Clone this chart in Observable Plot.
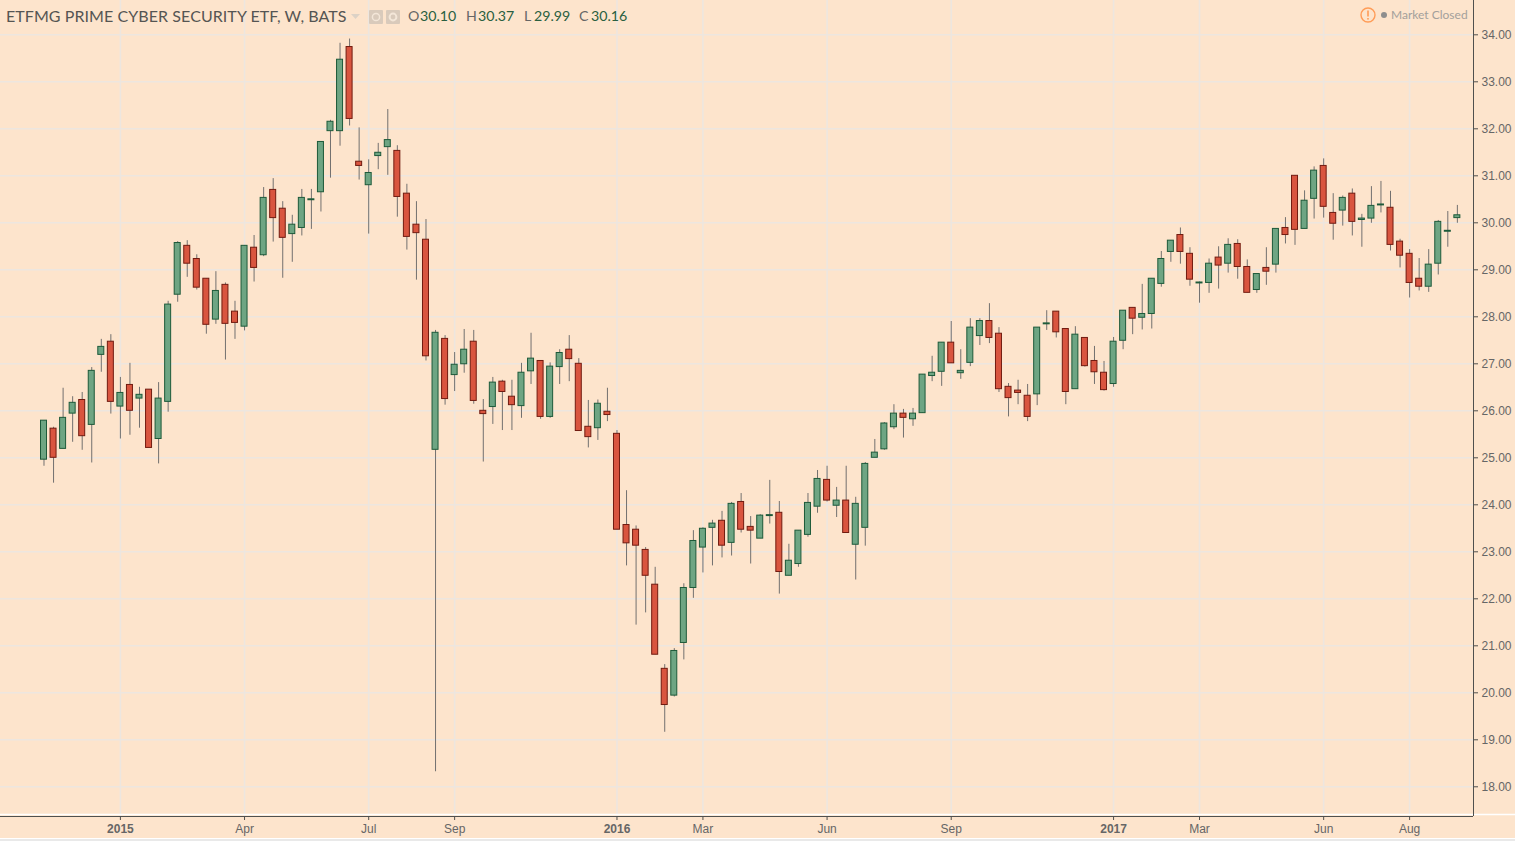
<!DOCTYPE html>
<html>
<head>
<meta charset="utf-8">
<script src="https://cdn.jsdelivr.net/npm/d3@7"></script>
<script src="https://cdn.jsdelivr.net/npm/@observablehq/plot@0.6"></script>
<style>
html,body{margin:0;padding:0;background:#e9e9e9;overflow:hidden;width:1515px;height:841px}
#wrap{position:relative;width:1515px;height:838px;background:#fde4cc;border-bottom:1px solid #fff}
#wrap svg{display:block;background:transparent}
.lbl{position:absolute;white-space:nowrap;font-family:Lato,sans-serif;line-height:16px}
.ohlc{font-size:14.2px;top:8px;color:#2a5f40}
.ohlc.k{color:#666}
</style>
</head>
<body>
<div id="wrap"></div>
<script>
const opens=[24.96,25.62,25.19,25.94,26.23,25.70,27.19,27.47,26.09,26.55,26.26,26.45,25.40,26.19,28.47,29.51,29.23,28.81,27.94,28.68,
28.11,27.79,29.47,29.31,30.70,30.30,29.76,29.89,30.48,30.65,31.95,31.95,33.74,31.30,30.80,31.42,31.61,31.53,30.62,29.96,
29.64,25.17,27.53,26.76,26.99,27.47,26.00,26.08,26.62,26.30,26.10,26.84,27.06,25.87,26.93,27.30,27.00,25.66,25.63,25.98,
25.51,23.57,23.47,23.04,22.30,20.51,19.94,21.06,22.23,23.09,23.51,23.66,23.19,24.06,23.53,23.28,23.76,23.83,22.49,22.74,
23.36,23.96,24.53,23.98,24.09,23.15,23.51,25.00,25.18,25.65,25.94,25.82,25.95,26.74,26.83,27.45,26.80,27.02,27.59,27.91,
27.64,26.51,26.43,26.32,26.35,27.84,28.11,27.74,26.46,27.55,27.06,26.81,26.57,27.49,28.19,27.98,28.06,28.70,29.38,29.74,
29.34,28.71,28.72,29.26,29.13,29.55,29.06,28.57,29.04,29.11,29.89,31.00,29.87,30.51,31.21,30.21,30.26,30.62,30.06,30.09,
30.37,30.32,29.60,29.34,28.81,28.64,29.13,29.81,30.10];
const highs=[25.79,25.65,26.48,26.30,26.39,26.92,27.52,27.62,26.71,27.01,26.50,26.45,26.60,28.33,29.60,29.62,29.32,28.81,28.96,28.72,
28.33,29.51,29.73,30.75,30.94,30.45,30.16,30.71,30.71,31.72,32.18,33.82,33.91,32.02,31.34,31.69,32.41,31.64,30.82,30.45,
30.07,27.71,27.60,27.24,27.73,27.71,26.24,26.71,26.65,26.65,27.01,27.65,27.06,27.02,27.30,27.60,27.11,26.22,26.23,26.48,
25.58,24.30,23.55,23.09,22.67,20.60,20.94,22.32,23.45,23.51,23.67,23.86,24.05,24.24,23.75,23.79,24.52,24.07,23.16,23.45,
24.24,24.73,24.82,24.37,24.82,24.16,24.90,25.39,25.75,26.13,26.03,26.05,26.77,27.16,27.45,27.90,27.30,27.96,27.96,28.28,
27.77,26.58,26.65,26.56,27.77,28.13,28.11,27.74,27.79,27.55,27.37,27.05,27.56,28.13,28.19,28.69,28.81,29.39,29.62,29.89,
29.47,28.74,29.23,29.49,29.66,29.64,29.21,28.91,29.47,29.87,30.11,31.00,30.68,31.19,31.36,30.62,30.57,30.72,30.18,30.77,
30.88,30.67,29.65,29.43,29.24,29.43,30.05,30.24,30.37];
const lows=[24.82,24.46,25.19,25.33,25.16,24.89,26.82,25.93,25.40,25.48,25.63,25.21,24.87,25.97,28.31,28.84,28.57,27.63,27.84,27.08,
27.52,27.70,28.74,29.28,29.59,28.82,29.16,29.72,29.86,30.23,30.95,31.63,32.06,30.91,29.76,31.13,31.01,30.12,29.42,28.78,
27.06,18.32,26.12,26.41,26.80,26.14,24.91,25.71,25.58,25.58,25.84,26.56,25.82,25.84,26.56,26.62,25.57,25.21,25.37,25.77,
23.47,22.70,21.44,21.70,20.81,19.16,19.91,20.70,22.01,22.55,22.70,22.87,22.91,23.40,22.74,23.28,23.59,22.10,22.49,22.67,
23.31,23.82,24.06,23.73,23.40,22.40,23.12,25.00,25.16,25.60,25.42,25.67,25.95,26.62,26.52,27.01,26.67,26.94,27.39,27.43,
26.39,25.87,26.13,25.77,26.11,27.71,27.55,26.13,26.46,26.93,26.56,26.42,26.50,27.30,27.62,27.72,27.74,28.63,29.16,29.12,
28.65,28.29,28.50,28.59,28.93,28.80,28.51,28.50,28.67,28.93,29.55,29.52,29.87,30.08,30.10,29.63,29.93,29.72,29.48,29.99,
30.21,29.40,29.04,28.40,28.55,28.52,28.89,29.48,29.99];
const closes=[25.79,25.00,25.85,26.17,25.46,26.85,27.36,26.19,26.38,26.00,26.34,25.21,26.26,28.26,29.57,29.13,28.62,27.83,28.55,27.85,
27.87,29.51,29.04,30.53,30.10,29.68,29.96,30.53,30.50,31.72,32.15,33.47,32.21,31.21,31.06,31.49,31.76,30.55,29.70,29.78,
27.16,27.66,26.25,26.98,27.30,26.21,25.93,26.60,26.40,26.12,26.81,27.11,25.87,26.94,27.23,27.10,25.57,25.44,26.15,25.91,
23.47,23.18,23.13,22.49,20.81,19.74,20.89,22.23,23.23,23.49,23.60,23.13,24.02,23.47,23.45,23.77,23.78,22.57,22.81,23.45,
24.04,24.55,24.09,24.09,23.40,24.02,24.87,25.11,25.73,25.94,25.85,25.94,26.77,26.81,27.45,27.01,26.85,27.77,27.91,27.55,
26.46,26.27,26.38,25.87,27.77,27.86,27.67,26.40,27.62,26.95,26.82,26.44,27.47,28.13,27.96,28.06,28.81,29.23,29.62,29.38,
28.79,28.73,29.13,29.09,29.53,29.06,28.51,28.91,28.96,29.87,29.74,29.85,30.47,31.11,30.34,29.98,30.53,30.02,30.09,30.36,
30.39,29.53,29.30,28.72,28.64,29.11,30.02,29.83,30.16];

const tickIndex=[8,21,34,43,60,69,82,95,112,121,134,143];
const tickText=["2015","Apr","Jul","Sep","2016","Mar","Jun","Sep","2017","Mar","Jun","Aug"];
const yearIndex=[8,60,112];
const priceTicks=d3.range(18,35);
const halfBody=0.314;
const xMin=-4.555,xMax=149.69,xFull=154.09;
const yMin=17.368,yMax=34.73;

const candles=opens.map((o,i)=>({i,o,h:highs[i],l:lows[i],c:closes[i],up:closes[i]>=o}));
const labelOf=new Map(tickIndex.map((t,k)=>[t,tickText[k]]));
const monthIndex=tickIndex.filter(t=>!yearIndex.includes(t));
const gridColor="#ede6df",axisColor="#50504e",textColor="#666666";

const chart=Plot.plot({
  width:1515,height:838,
  marginTop:0,marginLeft:0,marginRight:42,marginBottom:22,
  style:{background:"transparent",fontFamily:"'Liberation Sans',Arial,sans-serif",fontSize:"12px",color:textColor},
  x:{domain:[xMin,xMax]},
  y:{domain:[yMin,yMax]},
  marks:[
    Plot.ruleY(priceTicks,{stroke:gridColor,strokeWidth:1.6}),
    Plot.ruleX(tickIndex,{stroke:gridColor,strokeWidth:1.6}),
    Plot.ruleX(candles,{x:"i",y1:"l",y2:"h",stroke:"#72706f",strokeWidth:1}),
    Plot.rectY(candles,{
      x1:d=>d.i-halfBody,x2:d=>d.i+halfBody,y1:"o",y2:"c",
      fill:d=>d.up?"#6ea583":"#d9553f",
      stroke:d=>d.up?"#1d5a3a":"#711b10",strokeWidth:1
    }),
    Plot.ruleY([yMin],{x1:xMin,x2:xFull,stroke:"#ffffff",strokeWidth:1.5,dy:-2}),
    Plot.ruleY([yMin],{x1:xMin,x2:xMax,stroke:axisColor,strokeWidth:1}),
    Plot.ruleX([xMax],{y1:yMin,y2:yMax,stroke:axisColor,strokeWidth:1}),
    Plot.axisY(priceTicks,{anchor:"right",tickSize:4,tickPadding:4,tickFormat:d=>d.toFixed(2),stroke:axisColor,fill:textColor,label:null,fontSize:12}),
    Plot.axisX(monthIndex,{anchor:"bottom",tickSize:4,tickPadding:4,tickFormat:d=>labelOf.get(d),stroke:axisColor,fill:textColor,label:null,fontSize:12}),
    Plot.axisX(yearIndex,{anchor:"bottom",tickSize:4,tickPadding:4,tickFormat:d=>labelOf.get(d),stroke:axisColor,fill:textColor,label:null,fontSize:12,fontWeight:"bold"})
  ]
});
const wrap=document.getElementById("wrap");
wrap.appendChild(chart);

const overlays=[
  ["ETFMG PRIME CYBER SECURITY ETF, W, BATS","left:6px;top:8px;font-size:16px;color:#555553;font-weight:400;letter-spacing:0.07px"],
  ["O","left:408px","ohlc k"],["30.10","left:420px","ohlc"],
  ["H","left:466px","ohlc k"],["30.37","left:478px","ohlc"],
  ["L","left:524px","ohlc k"],["29.99","left:534px","ohlc"],
  ["C","left:579px","ohlc k"],["30.16","left:591px","ohlc"],
  ["Market Closed","left:1391px;top:7px;font-size:12px;color:#a3a09b"]
];
for(const [t,s,c] of overlays){
  const el=document.createElement("div");
  el.className="lbl "+(c||"");
  el.style.cssText=s;
  el.textContent=t;
  wrap.appendChild(el);
}
const ns=document.createElement("div");
ns.style.cssText="position:absolute;left:0;top:0;width:1515px;height:30px;pointer-events:none";
ns.innerHTML=`<svg width="1515" height="30" style="position:absolute;left:0;top:0">
<path d="M351 14h9l-4.5 5z" fill="#dcd2c6"/>
<rect x="369" y="10" width="14" height="14" rx="1" fill="#d9cabb"/><circle cx="376" cy="17" r="3.6" fill="none" stroke="#f3e6d8" stroke-width="1.5"/>
<rect x="386" y="10" width="14" height="14" rx="1" fill="#d9cabb"/><circle cx="393" cy="17" r="3.4" fill="none" stroke="#f3e6d8" stroke-width="2"/>
<circle cx="1368" cy="15" r="7" fill="none" stroke="#ff9c57" stroke-width="1.4"/>
<rect x="1367.2" y="10.5" width="1.6" height="6" fill="#ff9c57"/><rect x="1367.2" y="18" width="1.6" height="1.6" fill="#ff9c57"/>
<circle cx="1384" cy="15" r="3" fill="#8e8e8e"/></svg>`;
wrap.appendChild(ns);
</script>
</body>
</html>
